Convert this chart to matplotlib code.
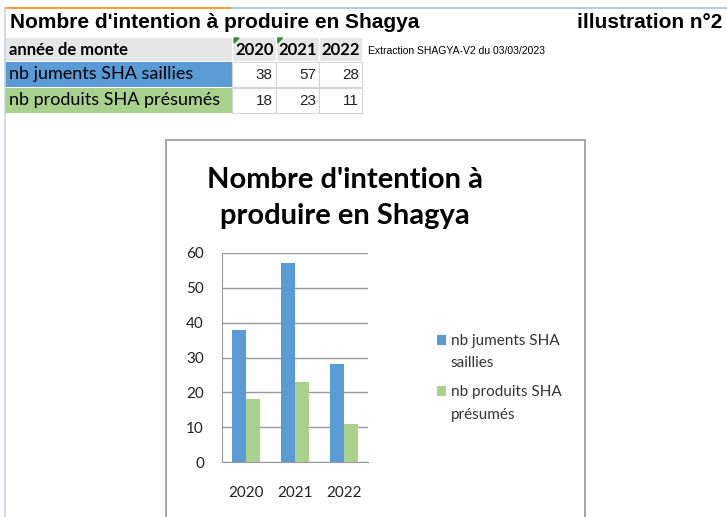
import matplotlib.pyplot as plt
from matplotlib.patches import Rectangle, Polygon
from matplotlib.legend_handler import HandlerPatch
import numpy as np

W, H = 727, 517

years = ["2020", "2021", "2022"]
juments = [38, 57, 28]
produits = [18, 23, 11]
row_labels = ["nb juments SHA saillies", "nb produits SHA présumés"]
legend_labels = ["nb juments SHA\nsaillies", "nb produits SHA\nprésumés"]
header_label = "année de monte"
sheet_title = "Nombre d'intention à produire en Shagya"
chart_title = "Nombre d'intention à\nproduire en Shagya"
illustration = "illustration n°2"
extraction = "Extraction SHAGYA-V2 du 03/03/2023"

BLUE = "#5b9bd5"
GREEN = "#a9d18e"
CAL = ["Lato", "DejaVu Sans"]
ARIAL = ["Liberation Sans", "DejaVu Sans"]


class TopSquare(HandlerPatch):
    # legend square aligned with the first line of a two-line label
    def create_artists(self, legend, orig_handle, xdescent, ydescent, width, height, fontsize, trans):
        p = Rectangle((-xdescent, -ydescent + 0.8 * fontsize), width, height,
                      facecolor=orig_handle.get_facecolor(), edgecolor="none", transform=trans)
        return [p]


fig = plt.figure(figsize=(W / 100, H / 100), dpi=100)
fig.patch.set_facecolor("white")

# background "sheet" axes in pixel coordinates
bg = fig.add_axes([0, 0, 1, 1])
bg.set_xlim(0, W)
bg.set_ylim(H, 0)
bg.axis("off")

# sheet borders
bg.plot([5, 232], [8, 8], color="#f0a040", lw=1.5)
bg.plot([232, W], [8, 8], color="#b4cbe6", lw=1.5)
bg.plot([5, 5], [8, H], color="#c8d4e2", lw=1.2)

bg.text(10, 23, sheet_title, fontsize=15, fontweight="bold", family=ARIAL, va="center", ha="left")
bg.text(722, 23, illustration, fontsize=15, fontweight="bold", family=ARIAL, va="center", ha="right")

# table
col_x = [232, 275.5, 319, 362]
bg.add_patch(Rectangle((5, 38), 357, 23, facecolor="#e6e6e6", edgecolor="none"))
bg.text(9, 50, header_label, fontsize=12, fontweight="bold", family=CAL, va="center")
for i, y in enumerate(years):
    bg.text(col_x[i + 1] - 2, 50, y, fontsize=12, fontweight="bold", family=CAL, va="center", ha="right")
    bg.plot([col_x[i], col_x[i]], [38, 61], color="white", lw=1)
for i in range(2):
    x0 = col_x[i]
    bg.add_patch(Polygon([[x0 + 2, 38], [x0 + 7, 38], [x0 + 2, 43]], color="#2e8b2e"))

for r, (lab, col, vals) in enumerate(zip(row_labels, [BLUE, GREEN], [juments, produits])):
    y0 = 62 + r * 26
    bg.add_patch(Rectangle((5, y0), 227, 25, facecolor=col, edgecolor="none"))
    bg.text(9, y0 + 12.5, lab, fontsize=13, family=CAL, va="center")
    for i, v in enumerate(vals):
        bg.add_patch(Rectangle((col_x[i], y0), col_x[i + 1] - col_x[i], 25,
                               facecolor="white", edgecolor="#d4d4d4", lw=0.8))
        bg.text(col_x[i + 1] - 3, y0 + 13, str(v), fontsize=11, family=ARIAL, va="center", ha="right",
                color="#222222")

bg.text(368, 51, extraction, fontsize=7.5, family=ARIAL, va="center")

# chart frame
bg.add_patch(Rectangle((166, 140), 419, 400, facecolor="white", edgecolor="#a8a8a8", lw=1.5))
bg.text(345, 198, chart_title, fontsize=21, fontweight="bold", family=CAL, ha="center", va="center",
        linespacing=1.45)

# bar chart
ax = fig.add_axes([222 / W, (H - 462) / H, 146 / W, 209 / H])
x = np.arange(len(years))
bw = 0.29
b1 = ax.bar(x - bw / 2, juments, bw, color=BLUE, zorder=3)
b2 = ax.bar(x + bw / 2, produits, bw, color=GREEN, zorder=3)
ax.set_xlim(-0.5, 2.5)
ax.set_ylim(0, 60)
ax.set_yticks(range(0, 61, 10))
ax.set_xticks(x)
ax.set_xticklabels(years)
ax.yaxis.grid(True, color="#9a9a9a", lw=1)
ax.set_axisbelow(True)
for s in ["top", "right"]:
    ax.spines[s].set_visible(False)
for s in ["left", "bottom"]:
    ax.spines[s].set_color("#9a9a9a")
ax.tick_params(axis="both", length=0, labelsize=11, colors="#222222")
ax.tick_params(axis="y", pad=13)
ax.tick_params(axis="x", pad=17)
for t in ax.get_xticklabels() + ax.get_yticklabels():
    t.set_family(CAL)

leg = fig.legend(handles=[b1.patches[0], b2.patches[0]], labels=legend_labels,
                 loc="upper left", bbox_to_anchor=(423 / W, 1 - 320 / H),
                 frameon=False, prop={"family": CAL, "size": 11}, handlelength=0.6, handleheight=0.6,
                 handletextpad=0.3, labelspacing=1.0,
                 handler_map={Rectangle: TopSquare()})
for t in leg.get_texts():
    t.set_color("#333333")
    t.set_linespacing(1.75)

fig.savefig("out.png", dpi=100)
